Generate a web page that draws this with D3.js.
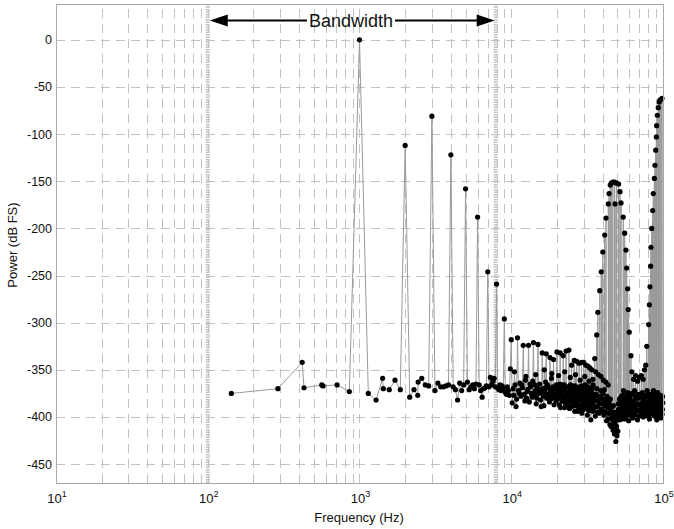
<!DOCTYPE html>
<html>
<head>
<meta charset="UTF-8">
<title>Power spectrum</title>
<style>
    body { margin: 0; background: #fff; }
    text { font-family: "Liberation Sans", Arial, Helvetica, sans-serif; fill: #111; }
</style>
</head>
<body>
<svg></svg>
<script src="https://d3js.org/d3.v7.min.js"></script>
<script>
// floor bins below 10 kHz, [Hz, dB]
let lowFloor = [[143,-375],[290,-370],[419,-342],[431,-369],[564,-366],[575,-367],[712,-366],[857,-373],
    [1143,-375],[1286,-382],[1420,-359],[1435,-370],[1571,-371],[1714,-361],[1857,-371],
    [2143,-379],[2286,-371],[2420,-377],[2435,-363],[2571,-359],[2714,-366],[2857,-367],
    [3143,-372],[3286,-364],[3429,-368],[3571,-368],[3714,-367],[3857,-366],
    [4143,-368],[4286,-371],[4429,-382],[4571,-364],[4714,-372],[4857,-366],
    [5143,-363],[5286,-371],[5429,-368],[5571,-366],[5714,-370],[5857,-365],
    [6143,-366],[6286,-372],[6429,-379],[6571,-370],[6714,-369],[6857,-367],
    [7143,-368],[7286,-358],[7429,-366],[7571,-362],[7714,-359],[7857,-368],
    [8143,-369],[8286,-371],[8429,-366],[8571,-372],[8714,-367],[8857,-370],
    [9143,-374],[9286,-376],[9429,-368],[9571,-372],[9714,-377],[9857,-349]];

// tone and harmonics, [Hz, dB]
let harmonics = [[1000,0],[2000,-112],[3000,-81],[4000,-122],[5000,-158],[6000,-188],[7000,-246],
    [8000,-259],[9000,-296],[10000,-318],[11000,-316],[12000,-324],[13000,-324],[14000,-321],
    [15000,-323],[16000,-332],[17000,-333],[18000,-337],[19000,-339],[20000,-331],[21000,-332],
    [22000,-335],[23000,-330],[24000,-329],[25000,-345],[26000,-340],[27000,-341],[28000,-343],
    [29000,-342],[30000,-342],[31000,-345],[32000,-346],[33000,-348],[34000,-350]];

// noise floor above 10 kHz, [kHz, dB]
let floorKHz = [[10.15,-385],[10.4,-377],[10.6,-366],[10.85,-381],[11.15,-372],[11.4,-364],[11.6,-378],
    [11.85,-369],[12.15,-376],[12.4,-361],[12.6,-380],[12.85,-371],[13.15,-384],[13.4,-368],[13.6,-375],
    [13.85,-362],[14.15,-377],[14.4,-372],[14.6,-386],[14.85,-369],[15.15,-375],[15.4,-365],[15.6,-382],
    [15.85,-374],[16.15,-370],[16.4,-388],[16.6,-373],[16.85,-363],[17.15,-380],[17.4,-376],[17.6,-369],
    [17.85,-384],[18.15,-372],[18.4,-359],[18.6,-378],[18.85,-374],[19.15,-387],[19.4,-370],[19.6,-377],
    [19.85,-366],
    [20.2,-381],[20.4,-369],[20.75,-387],[21.2,-375],[21.45,-366],[21.75,-383],[22.2,-372],[22.45,-390],
    [22.75,-377],[23.2,-368],[23.45,-384],[23.75,-374],[24.2,-391],[24.45,-371],[24.75,-380],[25.2,-367],
    [25.45,-386],[25.75,-376],[26.2,-394],[26.45,-379],[26.75,-370],[27.2,-385],[27.45,-375],[27.75,-392],
    [28.2,-368],[28.45,-382],[28.75,-377],[29.2,-396],[29.45,-373],[29.75,-386],[30.2,-379],[30.45,-370],
    [30.75,-390],[31.2,-381],[31.45,-374],[31.75,-398],[32.2,-385],[32.45,-372],[32.75,-391],[33.2,-379],
    [33.45,-403],[33.75,-384],[34.2,-375],[34.45,-394],[34.75,-381],
    [35.2,-380],[35.8,-399],[36.3,-376],[36.9,-389],[37.4,-383],[38.0,-396],[38.6,-378],[39.1,-392],
    [39.7,-386],[40.3,-375],[40.8,-398],[41.4,-388],[41.9,-381],[42.5,-404],[43.0,-390],[43.6,-396],
    [44.1,-384],[44.7,-408],[45.2,-393],[45.8,-401],[46.3,-389],[46.9,-414],[47.4,-398],[47.9,-418],
    [48.4,-405],[48.9,-426],[49.4,-410],[49.9,-397],[50.4,-415],[50.9,-392],
    [51.4,-386],[51.9,-403],[52.4,-380],[53.0,-396],[53.5,-388],[54.0,-377],[54.6,-399],[55.1,-384],
    [55.6,-391],[56.2,-381],[56.7,-402],[57.2,-387],[57.8,-376],[58.3,-394],[58.8,-383],[59.4,-404],
    [59.9,-389],[60.4,-379],[61.0,-397],[61.5,-385],[62.0,-392],[62.6,-375],[63.1,-401],
    [63.8,-384],[64.6,-396],[65.4,-378],[66.2,-391],[67.0,-386],[67.8,-403],[68.6,-380],[69.4,-393],
    [70.2,-387],[71.0,-398],[71.8,-376],[72.6,-390],[73.4,-384],[74.2,-400],[75.0,-381],[75.8,-394],
    [76.6,-388],[77.4,-377],[78.2,-396],[79.0,-385],[79.8,-391],[80.6,-379],[81.4,-402],[82.2,-388],
    [83.0,-382],[83.8,-397],[84.6,-386],[85.4,-375],[86.2,-393],[87.0,-384],[87.8,-399],[88.6,-380],
    [89.4,-390],[90.2,-385],[91.0,-403],[91.8,-382],[92.6,-394],[93.4,-378],[94.2,-389],[95.0,-396],
    [95.8,-383],[96.6,-401],[97.4,-387],[98.2,-380],[99.0,-392],[99.7,-385]];

// in-between floor bins, [kHz, dB]
let floor2KHz = [[10.3,-370],[10.75,-389],[11.3,-375],[11.75,-366],[12.3,-383],[12.75,-373],[13.3,-365],
    [13.75,-379],[14.3,-366],[14.75,-380],[15.3,-371],[15.75,-389],[16.3,-378],[16.75,-369],[17.3,-366],
    [17.75,-377],[18.3,-381],[18.75,-368],[19.3,-379],[19.75,-383],
    [20.3,-374],[20.6,-378],[20.9,-365],[21.1,-390],[21.35,-371],[21.6,-379],[21.9,-369],[22.1,-381],
    [22.35,-366],[22.6,-385],[22.9,-373],[23.1,-380],[23.35,-376],[23.6,-389],[23.9,-368],[24.1,-378],
    [24.35,-384],[24.6,-366],[24.9,-375],[25.1,-389],[25.35,-372],[25.6,-381],[25.9,-370],[26.1,-383],
    [26.35,-367],[26.6,-388],[26.9,-376],[27.1,-372],[27.35,-394],[27.6,-380],[27.9,-369],[28.1,-387],
    [28.35,-375],[28.6,-371],[28.9,-389],[29.1,-381],[29.35,-367],[29.6,-378],[29.9,-392],[30.1,-373],
    [30.35,-384],[30.6,-366],[30.9,-380],[31.1,-387],[31.35,-371],[31.6,-383],[31.9,-376],[32.1,-368],
    [32.35,-393],[32.6,-380],[32.9,-371],[33.1,-386],[33.35,-374],[33.6,-389],[33.9,-370],[34.1,-382],
    [34.35,-377],[34.6,-366],[34.9,-388],
    [35.5,-390],[36.0,-383],[36.6,-370],[37.1,-395],[37.7,-378],[38.3,-386],[38.9,-372],[39.4,-380],
    [40.0,-393],[40.6,-384],[41.1,-371],[41.7,-395],[42.2,-386],[42.8,-378],[43.3,-402],[43.9,-387],
    [44.4,-396],[45.0,-381],[45.5,-410],[46.1,-395],[46.6,-403],[47.1,-388],[47.7,-407],[48.2,-395],
    [48.7,-412],[49.2,-400],[49.7,-420],[50.2,-402],[50.7,-386],[51.2,-398],[51.7,-381],[52.2,-393],
    [52.7,-385],[53.3,-378],[53.8,-402],[54.3,-390],[54.9,-372],[55.4,-396],[55.9,-387],[56.5,-393],
    [57.0,-379],[57.5,-398],[58.1,-385],[58.6,-374],[59.1,-392],[59.7,-381],[60.2,-398],[60.7,-386],
    [61.3,-376],[61.8,-394],[62.3,-383],[62.9,-389],
    [64.2,-388],[65.0,-372],[65.8,-398],[66.6,-380],[67.4,-393],[68.2,-376],[69.0,-386],[69.8,-399],
    [70.6,-379],[71.4,-388],[72.2,-395],[73.0,-374],[73.8,-391],[74.6,-383],[75.4,-397],[76.2,-378],
    [77.0,-389],[77.8,-384],[78.6,-372],[79.4,-399],[80.2,-387],[81.0,-376],[81.8,-392],[82.6,-381],
    [83.4,-395],[84.2,-378],[85.0,-390],[85.8,-385],[86.6,-372],[87.4,-396],[88.2,-387],[89.0,-377],
    [89.8,-398],[90.6,-381],[91.4,-390],[92.2,-374],[93.0,-386],[93.8,-399],[94.6,-380],[95.4,-388],
    [96.2,-377],[97.0,-393],[97.8,-383],[98.6,-397],[99.3,-378]];

// smaller spurs sitting just above the floor, [kHz, dB]
let spursKHz = [[10.5,-352],[12.5,-357],[14.5,-355],[16.5,-350],[18.5,-354],[20.5,-356],[22.5,-352],
    [24.5,-358],[26.5,-355],[28.5,-361],[30.5,-357],[32.5,-362],[34.5,-360],
    [36,-352],[37.5,-355],[39,-357],[40.5,-361],[42,-363],[43.5,-366],
    [62.3,-352],[64,-360],[66,-356],[68,-362],[70,-358],[72,-356],[74,-360],[75.5,-350]];

// shaped-noise humps, [kHz, dB]
let hump1KHz = [[35.5,-338],[36.6,-313],[37.2,-289],[38.3,-266],[39.2,-246],[40.1,-225],[41.3,-207],
    [42.1,-189],[43.6,-174],[44.1,-163],[44.9,-154],[45.6,-152],[46.7,-151],[48.0,-151],[48.3,-174],
    [49.5,-152],[51.0,-153],[52.1,-161],[52.9,-173],[54.7,-188],[55.9,-205],[57.0,-223],[57.6,-242],
    [58.5,-264],[59.0,-286],[59.9,-310],[61.5,-335]];
let hump2KHz = [[77.0,-345],[78.2,-325],[80.5,-302],[81.3,-281],[82.1,-262],[82.9,-240],[83.3,-220],
    [84.3,-200],[85.5,-181],[86.3,-163],[87.7,-147],[88.5,-133],[89.5,-117],[90.4,-103],[90.8,-91],
    [91.7,-80],[93.1,-72],[94.5,-66],[95.5,-64],[97.0,-63],[98.5,-62]];

let yTicks = [-450, -400, -350, -300, -250, -200, -150, -100, -50, 0];
let xTickExp = [1, 2, 3, 4, 5];
let bandEdges = [100, 7900];

let width = 674, height = 529;
let svg = d3.select("svg").attr("width", width).attr("height", height);

let x = d3.scaleLog().domain([10, 1e5]).range([56, 663]);
let y = d3.scaleLinear().domain([-470, 38]).range([483, 4]);

let toHz = a => a.map(d => [d[0] * 1000, d[1]]);
let points = [].concat(lowFloor, harmonics, toHz(floorKHz), toHz(floor2KHz), toHz(spursKHz),
    toHz(hump1KHz), toHz(hump2KHz))
    .sort((a, b) => a[0] - b[0]);

// grid
let grid = svg.append("g").attr("stroke", "#c2c2c2").attr("stroke-width", 1)
    .attr("stroke-dasharray", "9,6").attr("fill", "none");
grid.selectAll(".vg").data(x.ticks()).enter().append("line")
    .attr("x1", d => Math.round(x(d)) + 0.5).attr("x2", d => Math.round(x(d)) + 0.5)
    .attr("y1", y.range()[0]).attr("y2", y.range()[1]);
grid.selectAll(".hg").data(yTicks).enter().append("line")
    .attr("y1", d => Math.round(y(d)) + 0.5).attr("y2", d => Math.round(y(d)) + 0.5)
    .attr("x1", x.range()[0]).attr("x2", x.range()[1]);

// bandwidth edges
svg.append("g").selectAll("line").data(bandEdges).enter().append("line")
    .attr("x1", d => x(d)).attr("x2", d => x(d))
    .attr("y1", y.range()[0]).attr("y2", y.range()[1])
    .attr("stroke", "#c4c4c4").attr("stroke-width", 4).attr("stroke-dasharray", "1.5,1");

// spectrum
let line = d3.line().x(d => x(d[0])).y(d => y(d[1]));
svg.append("path").datum(points)
    .attr("d", line)
    .attr("fill", "none").attr("stroke", "#9a9a9a").attr("stroke-width", 1);
svg.append("g").selectAll("circle").data(points).enter().append("circle")
    .attr("cx", d => x(d[0])).attr("cy", d => y(d[1])).attr("r", 2.6)
    .attr("fill", "#000");

// frame
svg.append("rect")
    .attr("x", x.range()[0] + 0.5).attr("y", y.range()[1] + 0.5)
    .attr("width", x.range()[1] - x.range()[0]).attr("height", y.range()[0] - y.range()[1])
    .attr("fill", "none").attr("stroke", "#a8a8a8");

// y tick labels
svg.append("g").selectAll("text").data(yTicks).enter().append("text")
    .attr("x", 52).attr("y", d => y(d) + 4.5)
    .attr("text-anchor", "end").style("font-size", "12.5px")
    .text(d => d);

// x tick labels
let xl = svg.append("g").selectAll("text").data(xTickExp).enter().append("text")
    .attr("x", d => x(Math.pow(10, d)) + 1).attr("y", 503)
    .attr("text-anchor", "middle").style("font-size", "13px");
xl.append("tspan").text("10");
xl.append("tspan").attr("dy", -6).style("font-size", "9px").text(d => d);

// axis titles
svg.append("text").attr("x", 359).attr("y", 522).attr("text-anchor", "middle")
    .style("font-size", "13px").text("Frequency (Hz)");
svg.append("text").attr("transform", "translate(17,245) rotate(-90)").attr("text-anchor", "middle")
    .style("font-size", "13px").text("Power (dB FS)");

// bandwidth arrow
let ax0 = x(bandEdges[0]) + 2, ax1 = x(bandEdges[1]) - 1, ay = 20.5;
svg.append("line").attr("x1", ax0 + 16).attr("x2", ax1 - 16).attr("y1", ay).attr("y2", ay)
    .attr("stroke", "#000").attr("stroke-width", 2);
svg.append("path").attr("d", `M${ax0},${ay}L${ax0 + 18},${ay - 6}L${ax0 + 18},${ay + 6}Z`).attr("fill", "#000");
svg.append("path").attr("d", `M${ax1},${ay}L${ax1 - 18},${ay - 6}L${ax1 - 18},${ay + 6}Z`).attr("fill", "#000");
let bt = svg.append("text").attr("x", 351).attr("y", 26.5).attr("text-anchor", "middle")
    .style("font-size", "18px").text("Bandwidth");
let bb = bt.node().getBBox();
svg.append("rect")
    .attr("x", bb.x - 2).attr("y", ay - 2).attr("width", bb.width + 4).attr("height", 4)
    .attr("fill", "#fff");
bt.raise();
</script>
</body>
</html>
